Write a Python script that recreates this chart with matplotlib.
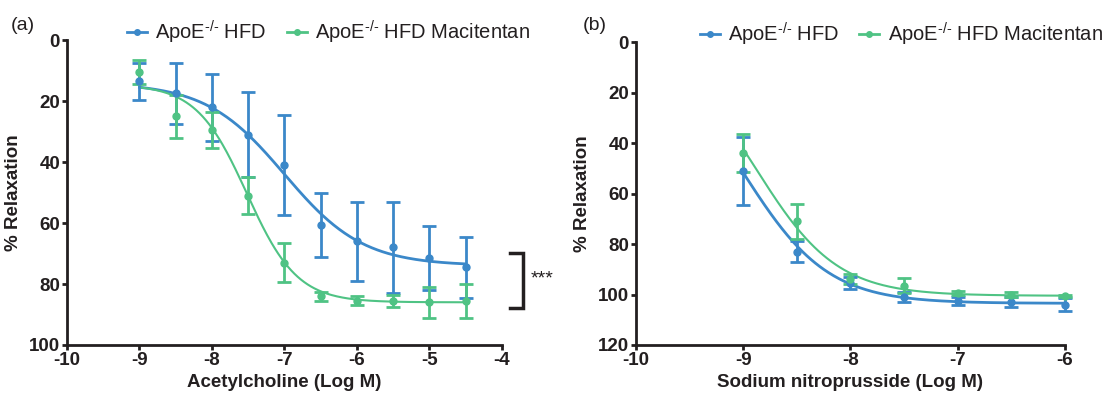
import numpy as np
import matplotlib
matplotlib.use("Agg")
import matplotlib.pyplot as plt
from matplotlib.lines import Line2D

plt.rcParams['font.family'] = ['Liberation Sans', 'DejaVu Sans']
plt.rcParams['axes.unicode_minus'] = False
plt.rcParams['mathtext.fontset'] = 'custom'
plt.rcParams['mathtext.rm'] = 'Liberation Sans'
plt.rcParams['mathtext.it'] = 'Liberation Sans'
plt.rcParams['mathtext.bf'] = 'Liberation Sans:bold'

BLUE = '#3b88c9'
GREEN = '#4fc384'
DARK = '#231f20'

# ---- Panel (a): Acetylcholine ----
ach_x = [-9, -8.5, -8, -7.5, -7, -6.5, -6, -5.5, -5, -4.5]
ach_hfd = [13.5, 17.5, 22, 31, 41, 60.5, 66, 68, 71.5, 74.5]
ach_hfd_err = [6, 10, 11, 14, 16.5, 10.5, 13, 15, 10.5, 10]
ach_mac = [10.5, 25, 29.5, 51, 73, 84, 85.5, 85.5, 86, 85.5]
ach_mac_err = [4, 7, 6, 6, 6.5, 1.5, 1.5, 2, 5, 5.5]
# 4PL fit parameters (bottom, top, logEC50, hill)
ach_hfd_fit = (14.0, 74.0, -7.0, 0.8)
ach_mac_fit = (14.5, 86.0, -7.52, 1.25)

# ---- Panel (b): Sodium nitroprusside ----
snp_x = [-9, -8.5, -8, -7.5, -7, -6.5, -6]
snp_hfd = [51, 83, 95.5, 101, 102.5, 103, 104]
snp_hfd_err = [13.5, 4, 2.5, 2, 1.5, 2, 2.5]
snp_mac = [44, 71, 94, 96.5, 99.5, 100, 100.5]
snp_mac_err = [7.5, 7, 2, 3, 0.8, 1, 0.5]
snp_hfd_fit = (0.0, 103.5, -9.0, 1.1)
snp_mac_fit = (0.0, 100.5, -8.88, 1.15)

labels = [r'ApoE$^{\text{-/-}}$ HFD', r'ApoE$^{\text{-/-}}$ HFD Macitentan']


def hill(x, p):
    b, t, ec, h = p
    return b + (t - b) / (1 + 10 ** ((ec - x) * h))


fig = plt.figure(figsize=(11.02, 3.97), dpi=100)
axa = fig.add_axes([0.0608, 0.131, 0.3947, 0.768])
axb = fig.add_axes([0.5771, 0.131, 0.3893, 0.763])


def style(ax, xlim, ylim, yticks, xlabel):
    ax.set_xlim(*xlim)
    ax.set_ylim(ylim[1], ylim[0])
    ax.set_yticks(yticks)
    ax.set_xticks(np.arange(xlim[0], xlim[1] + 1, 1))
    for s in ['top', 'right']:
        ax.spines[s].set_visible(False)
    for s in ['left', 'bottom']:
        ax.spines[s].set_linewidth(2)
        ax.spines[s].set_color(DARK)
    ax.tick_params(width=2, length=3.5, labelsize=13.5, pad=1.5,
                   color=DARK, labelcolor=DARK)
    for lab in ax.get_xticklabels() + ax.get_yticklabels():
        lab.set_fontweight('bold')
    ax.set_xlabel(xlabel, fontsize=13.5, fontweight='bold', labelpad=4, color=DARK)
    ax.set_ylabel('% Relaxation', fontsize=13.5, fontweight='bold', labelpad=5, color=DARK)


def draw(ax, x, y, e, p, color, lw, xs):
    ax.errorbar(x, y, yerr=e, fmt='o', color=color, ms=5, elinewidth=2,
                capsize=5, capthick=2, zorder=3, clip_on=False)
    ax.plot(xs, hill(xs, p), color=color, lw=lw, zorder=2)


xs_a = np.linspace(-9, -4.5, 300)
draw(axa, ach_x, ach_hfd, ach_hfd_err, ach_hfd_fit, BLUE, 2.0, xs_a)
draw(axa, ach_x, ach_mac, ach_mac_err, ach_mac_fit, GREEN, 1.5, xs_a)
style(axa, (-10, -4), (0, 100), [0, 20, 40, 60, 80, 100], 'Acetylcholine (Log M)')

xs_b = np.linspace(-9, -6, 300)
draw(axb, snp_x, snp_hfd, snp_hfd_err, snp_hfd_fit, BLUE, 2.0, xs_b)
draw(axb, snp_x, snp_mac, snp_mac_err, snp_mac_fit, GREEN, 1.5, xs_b)
style(axb, (-10, -6), (0, 120), [0, 20, 40, 60, 80, 100, 120], 'Sodium nitroprusside (Log M)')

# significance bracket on panel (a)
axa.plot([-3.89, -3.71, -3.71, -3.89], [69.8, 69.8, 87.9, 87.9], color=DARK, lw=2.5,
         clip_on=False, solid_joinstyle='miter')
axa.text(-3.6, 78.5, '***', fontsize=14, ha='left', va='center', color=DARK)

handles = [Line2D([0], [0], color=BLUE, marker='o', ms=4, lw=2),
           Line2D([0], [0], color=GREEN, marker='o', ms=4, lw=2)]
axa.legend(handles, labels, loc='lower left', bbox_to_anchor=(0.12, 0.955), ncol=2,
           frameon=False, fontsize=14.5, handlelength=1.0, handletextpad=0.4,
           columnspacing=1.0, borderaxespad=0, labelcolor=DARK)
axb.legend(handles, labels, loc='lower left', bbox_to_anchor=(0.13, 0.955), ncol=2,
           frameon=False, fontsize=14.5, handlelength=1.0, handletextpad=0.4,
           columnspacing=1.0, borderaxespad=0, labelcolor=DARK)

fig.text(0.010, 0.925, '(a)', fontsize=14, color=DARK)
fig.text(0.529, 0.925, '(b)', fontsize=14, color=DARK)

fig.savefig('out.png', dpi=100)
